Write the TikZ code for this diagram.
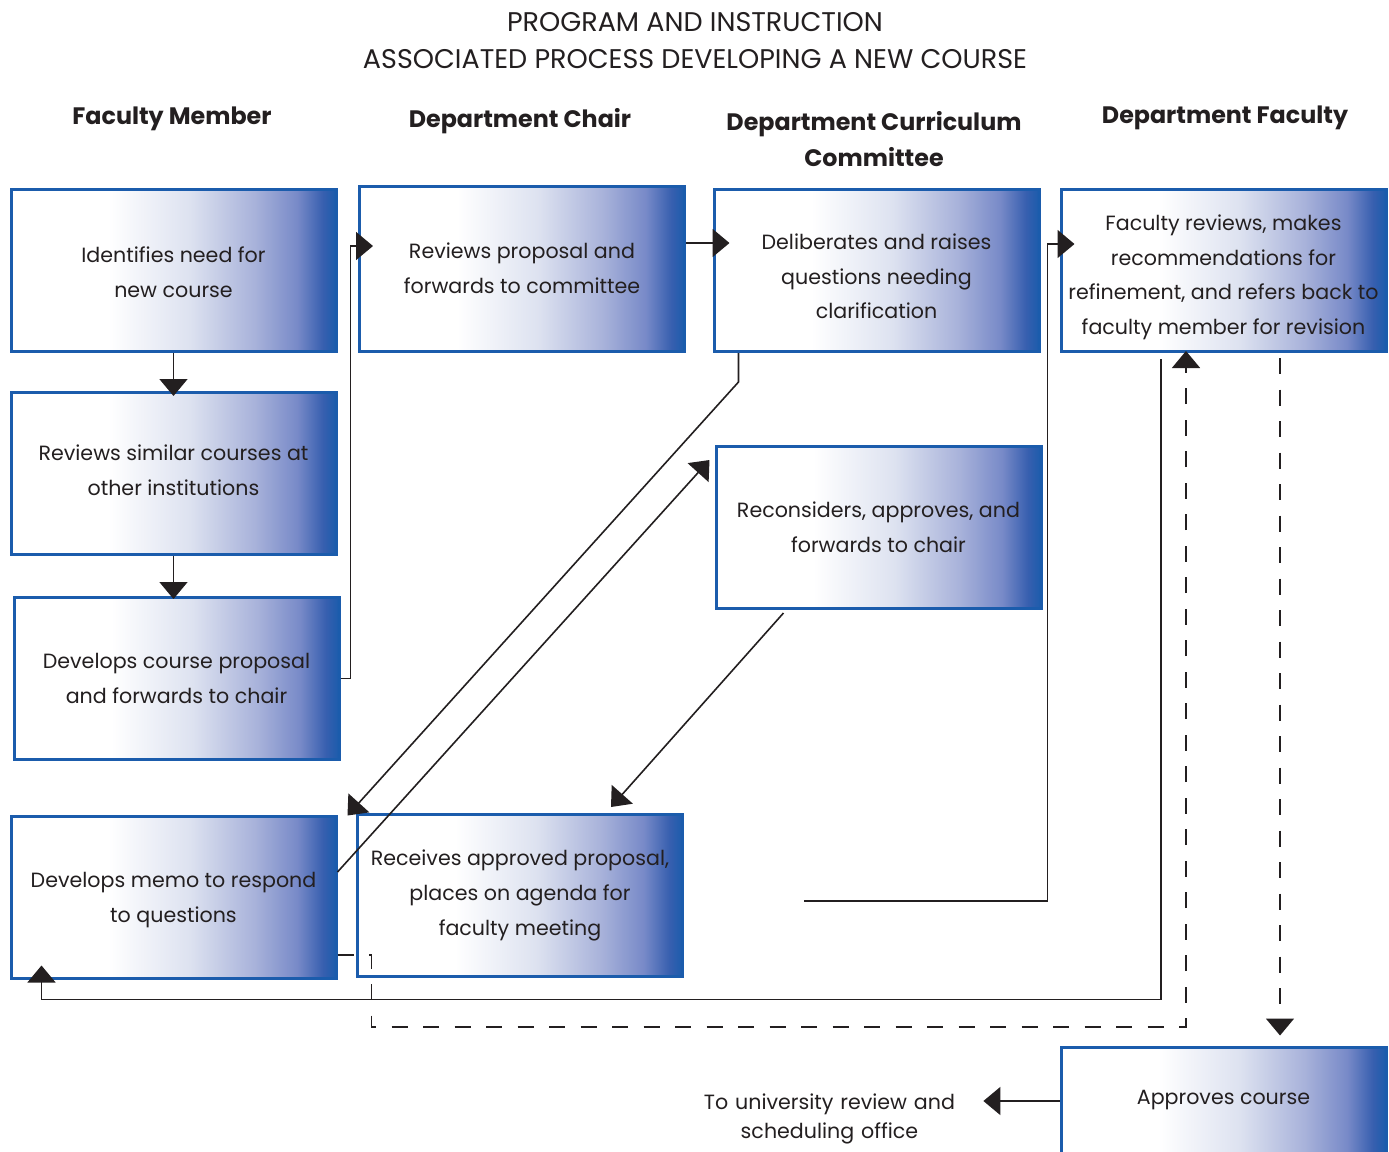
\documentclass[tikz,border=0pt]{standalone}
\usepackage{fontspec}
\setmainfont{Poppins}
\usetikzlibrary{arrows.meta}
\definecolor{boxblue}{RGB}{27,92,172}
\definecolor{ink}{RGB}{35,31,32}
\definecolor{shA}{RGB}{221,226,240}
\definecolor{shB}{RGB}{168,178,218}
\definecolor{shC}{RGB}{120,138,200}
\definecolor{shD}{RGB}{55,95,175}
\pgfdeclarehorizontalshading{boxshade}{100bp}{color(0bp)=(white); color(40bp)=(white); color(52.5bp)=(shA); color(62.5bp)=(shB); color(69bp)=(shC); color(73bp)=(shD); color(75bp)=(boxblue); color(100bp)=(boxblue)}
\newcommand{\dropby}[1]{\rule{0pt}{\dimexpr\fontcharht\font`l+#1\relax}}
\newcommand{\liftby}[1]{\rule[-#1]{0pt}{#1}}
\tikzset{
  box/.style={draw=boxblue, line width=1.5pt, shading=boxshade, shade, minimum width=162.5pt, minimum height=81pt, inner sep=0pt, align=center, font=\fontsize{10.3}{17.4}\selectfont, text=ink},
  head/.style={font=\fontsize{11.9}{18}\selectfont\bfseries, align=center, text=ink},
  conn/.style={draw=ink, line width=0.8pt},
  arr/.style={conn, -{Triangle[width=14pt,length=8.5pt]}},
  dashline/.style={conn, dash pattern=on 8pt off 7.75pt},
}
\begin{document}
\begin{tikzpicture}[x=0.5pt, y=-0.5pt]
\useasboundingbox (0,0) rectangle (1389,1152);
\clip (0,0) rectangle (1389,1152);
\fill[white] (0,0) rectangle (1389,1152);

% title and column heads
\node[font=\fontsize{13.5}{18.5}\selectfont, align=center, text=ink] (title) at (695,41) {PROGRAM AND INSTRUCTION\\ASSOCIATED PROCESS DEVELOPING A NEW COURSE};
\node[head] (h1) at (172,118.5) {Faculty Member};
\node[head] (h2) at (520,121.5) {Department Chair};
\node[head] (h3) at (874,139) {Department Curriculum\\Committee};
\node[head] (h4) at (1225,117.5) {Department Faculty};

% boxes
\node[box] (A) at (173.5,270.5) {\dropby{2pt}Identifies need for\\new course};
\node[box] (B) at (173.5,473.5) {Reviews similar courses at\\other institutions\liftby{3pt}};
\node[box] (C) at (176.5,678.5) {Develops course proposal\\and forwards to chair};
\node[box] (D) at (173.5,897) {\dropby{3pt}Develops memo to respond\\to questions};
\node[box, minimum height=82.5pt] (E) at (522,268.5) {Reviews proposal and\\forwards to committee};
\node[box] (F) at (520,895.5) {Receives approved proposal,\\places on agenda for\\faculty meeting};
\node[box] (G) at (876.5,270.5) {\dropby{6pt}Deliberates and raises\\questions needing\\clarification};
\node[box] (H) at (878.5,527.5) {Reconsiders, approves, and\\forwards to chair};
\node[box] (I) at (1223.5,270.5) {\dropby{7pt}Faculty reviews, makes\\recommendations for\\refinement, and refers back to\\faculty member for revision};
\node[box, minimum height=81.5pt] (J) at (1223.5,1128.5) {\raisebox{31.5pt}{Approves course}};
\node[font=\fontsize{10.3}{14.5}\selectfont, align=center, text width=140pt, inner sep=0pt, text=ink] (ext) at (829.5,1118.5) {To university review and\\scheduling office};

% helper coordinates
\coordinate (e1) at ([yshift=12.75pt]E.east);
\coordinate (g1) at ([xshift=13pt]G.south west);
\coordinate (d1) at ([yshift=12.5pt]D.east);
\coordinate (h1s) at ([xshift=34.5pt,yshift=-1.5pt]H.south west);
\coordinate (f1) at ([xshift=60pt,yshift=-2.75pt]F.east);
\coordinate (i1) at ([xshift=-6pt,yshift=13.25pt]I.west);
\coordinate (i2) at ([xshift=-31.25pt,yshift=-3pt]I.south);
\coordinate (d2) at ([xshift=16pt]D.south west);
\coordinate (d3) at ([yshift=-29pt]D.east);
\coordinate (i3) at ([xshift=-18.75pt]I.south);
\coordinate (i4) at ([xshift=28.25pt,yshift=-2.5pt]I.south);
\coordinate (j1) at ([yshift=13.75pt]J.west);

% connectors
\draw[arr, shorten >=-2.5pt] (A.south) -- (A.south |- B.north);
\draw[arr, shorten >=-1.5pt] (B.south) -- (B.south |- C.north);
\draw[arr, shorten >=-7.5pt] (C.east) -- ++(10,0) |- ([yshift=11.25pt]E.west);
\draw[arr, shorten >=-8.5pt] (e1) -- (e1 -| G.west);
\draw[arr] (g1) -- ++(0,29) -- ([xshift=5pt,yshift=-0.5pt]D.north east);
\draw[arr] (d1) -- ([xshift=-2.5pt,yshift=-7.5pt]H.north west);
\draw[arr] (h1s) -- ([xshift=45.5pt,yshift=3pt]F.north);
\draw[arr, shorten >=-7.5pt] (f1) -| (i1) -- (i1 -| I.west);
\draw[arr, shorten >=-7pt] (i2) |- ([yshift=-10pt]d2) -- (d2);
\draw[dashline, -{Triangle[width=14pt,length=8.5pt]}, shorten >=-1pt] (d3) -- ++(34,0) -- ++(0,72) -| (i3);
\draw[dashline, -{Triangle[width=14pt,length=8.5pt]}, shorten >=5pt] (i4) -- (i4 |- J.north);
\draw[arr, shorten >=6.75pt] (j1) -- (j1 -| ext.east);
\end{tikzpicture}
\end{document}
